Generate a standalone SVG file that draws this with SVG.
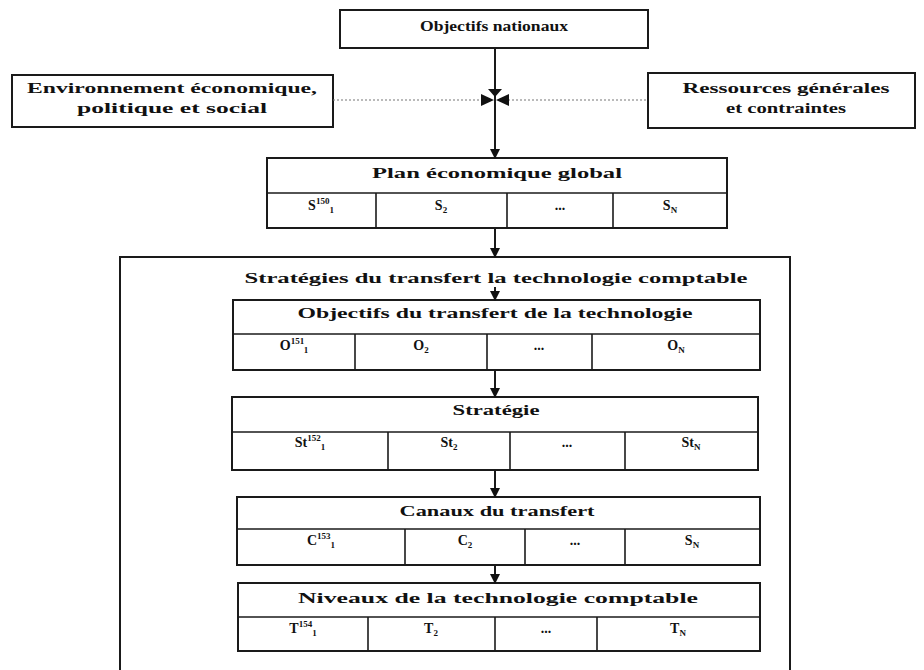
<svg xmlns="http://www.w3.org/2000/svg" width="924" height="670" viewBox="0 0 924 670">
<style>
.box{fill:#fff;stroke:#1a1a1a;stroke-width:2}
.ln{fill:none;stroke:#1a1a1a;stroke-width:1.6}
.t{font-family:"Liberation Serif","Times New Roman",serif;font-weight:bold;font-size:15px;fill:#111;text-anchor:middle}
.c{font-family:"Liberation Serif","Times New Roman",serif;font-weight:bold;font-size:14px;fill:#111;text-anchor:middle}
.sm{font-size:9px}
.con{fill:none;stroke:#1a1a1a;stroke-width:2}
.dot{fill:none;stroke:#777;stroke-width:1.2;stroke-dasharray:2 2}
.ah{fill:#111}
</style>
<defs>
<marker id="arr" viewBox="0 0 10 10" refX="9" refY="5" markerWidth="5" markerHeight="5" orient="auto" markerUnits="strokeWidth">
<path d="M0,0 L10,5 L0,10 Z" fill="#111"/>
</marker>
</defs>

<g id="objectifs-nationaux">
<rect class="box" x="340" y="10" width="308" height="38"/>
<text class="t" x="494" y="31" textLength="148" lengthAdjust="spacingAndGlyphs">Objectifs nationaux</text>
</g>

<g id="environnement">
<rect class="box" x="12" y="75" width="321" height="52"/>
<text class="t" x="172" y="93" textLength="290" lengthAdjust="spacingAndGlyphs">Environnement économique,</text>
<text class="t" x="172" y="113" textLength="190" lengthAdjust="spacingAndGlyphs">politique et social</text>
</g>

<g id="ressources">
<rect class="box" x="648" y="73" width="267" height="55"/>
<text class="t" x="786" y="93" textLength="207" lengthAdjust="spacingAndGlyphs">Ressources générales</text>
<text class="t" x="786" y="113" textLength="120" lengthAdjust="spacingAndGlyphs">et contraintes</text>
</g>

<g id="plan-economique">
<rect class="box" x="267" y="158" width="460" height="70"/>
<line class="ln" x1="267" y1="193" x2="727" y2="193"/>
<line class="ln" x1="376" y1="193" x2="376" y2="228"/>
<line class="ln" x1="507" y1="193" x2="507" y2="228"/>
<line class="ln" x1="613" y1="193" x2="613" y2="228"/>
<text class="t" x="497" y="178" textLength="250" lengthAdjust="spacingAndGlyphs">Plan économique global</text>
<text class="c" x="321" y="210">S<tspan class="sm" dy="-6">150</tspan><tspan class="sm" dy="9">1</tspan></text>
<text class="c" x="441" y="210">S<tspan class="sm" dy="3">2</tspan></text>
<text class="c" x="560" y="210">...</text>
<text class="c" x="670" y="210">S<tspan class="sm" dy="3">N</tspan></text>
</g>

<g id="strategies-transfert">
<rect class="box" x="120" y="257" width="670" height="440"/>
<text class="t" x="496" y="283" textLength="503" lengthAdjust="spacingAndGlyphs">Stratégies du transfert la technologie comptable</text>
</g>

<g id="objectifs-transfert">
<rect class="box" x="233" y="300" width="527" height="70"/>
<line class="ln" x1="233" y1="334" x2="760" y2="334"/>
<line class="ln" x1="355" y1="334" x2="355" y2="370"/>
<line class="ln" x1="487" y1="334" x2="487" y2="370"/>
<line class="ln" x1="592" y1="334" x2="592" y2="370"/>
<text class="t" x="495" y="318" textLength="395" lengthAdjust="spacingAndGlyphs">Objectifs du transfert de la technologie</text>
<text class="c" x="294" y="350">O<tspan class="sm" dy="-6">151</tspan><tspan class="sm" dy="9">1</tspan></text>
<text class="c" x="421" y="350">O<tspan class="sm" dy="3">2</tspan></text>
<text class="c" x="539" y="350">...</text>
<text class="c" x="676" y="350">O<tspan class="sm" dy="3">N</tspan></text>
</g>

<g id="strategie">
<rect class="box" x="232" y="397" width="526" height="73"/>
<line class="ln" x1="232" y1="432" x2="758" y2="432"/>
<line class="ln" x1="388" y1="432" x2="388" y2="470"/>
<line class="ln" x1="510" y1="432" x2="510" y2="470"/>
<line class="ln" x1="625" y1="432" x2="625" y2="470"/>
<text class="t" x="496" y="415" textLength="87" lengthAdjust="spacingAndGlyphs">Stratégie</text>
<text class="c" x="310" y="447">St<tspan class="sm" dy="-6">152</tspan><tspan class="sm" dy="9">1</tspan></text>
<text class="c" x="449" y="447">St<tspan class="sm" dy="3">2</tspan></text>
<text class="c" x="567" y="447">...</text>
<text class="c" x="691" y="447">St<tspan class="sm" dy="3">N</tspan></text>
</g>

<g id="canaux">
<rect class="box" x="237" y="497" width="523" height="68"/>
<line class="ln" x1="237" y1="529" x2="760" y2="529"/>
<line class="ln" x1="405" y1="529" x2="405" y2="565"/>
<line class="ln" x1="525" y1="529" x2="525" y2="565"/>
<line class="ln" x1="625" y1="529" x2="625" y2="565"/>
<text class="t" x="497" y="516" textLength="195" lengthAdjust="spacingAndGlyphs">Canaux du transfert</text>
<text class="c" x="321" y="545">C<tspan class="sm" dy="-6">153</tspan><tspan class="sm" dy="9">1</tspan></text>
<text class="c" x="465" y="545">C<tspan class="sm" dy="3">2</tspan></text>
<text class="c" x="575" y="545">...</text>
<text class="c" x="692" y="545">S<tspan class="sm" dy="3">N</tspan></text>
</g>

<g id="niveaux">
<rect class="box" x="238" y="583" width="522" height="68"/>
<line class="ln" x1="238" y1="617" x2="760" y2="617"/>
<line class="ln" x1="368" y1="617" x2="368" y2="651"/>
<line class="ln" x1="495" y1="617" x2="495" y2="651"/>
<line class="ln" x1="597" y1="617" x2="597" y2="651"/>
<text class="t" x="498" y="603" textLength="400" lengthAdjust="spacingAndGlyphs">Niveaux de la technologie comptable</text>
<text class="c" x="303" y="633">T<tspan class="sm" dy="-6">154</tspan><tspan class="sm" dy="9">1</tspan></text>
<text class="c" x="431" y="633">T<tspan class="sm" dy="3">2</tspan></text>
<text class="c" x="546" y="633">...</text>
<text class="c" x="678" y="633">T<tspan class="sm" dy="3">N</tspan></text>
</g>

<g id="connectors">
<line class="con" x1="495" y1="48" x2="495" y2="158" marker-end="url(#arr)"/>
<line class="dot" x1="333" y1="100" x2="482" y2="100"/>
<line class="dot" x1="508" y1="100" x2="648" y2="100"/>
<polygon class="ah" points="481,94 494,100 481,106"/>
<polygon class="ah" points="509,94 496,100 509,106"/>
<polygon class="ah" points="488,89 502,89 495,97"/>
<line class="con" x1="495" y1="228" x2="495" y2="257" marker-end="url(#arr)"/>
<line class="con" x1="495" y1="287" x2="495" y2="300" marker-end="url(#arr)"/>
<line class="con" x1="495" y1="370" x2="495" y2="397" marker-end="url(#arr)"/>
<line class="con" x1="495" y1="470" x2="495" y2="497" marker-end="url(#arr)"/>
<line class="con" x1="495" y1="565" x2="495" y2="583" marker-end="url(#arr)"/>
</g>
</svg>
